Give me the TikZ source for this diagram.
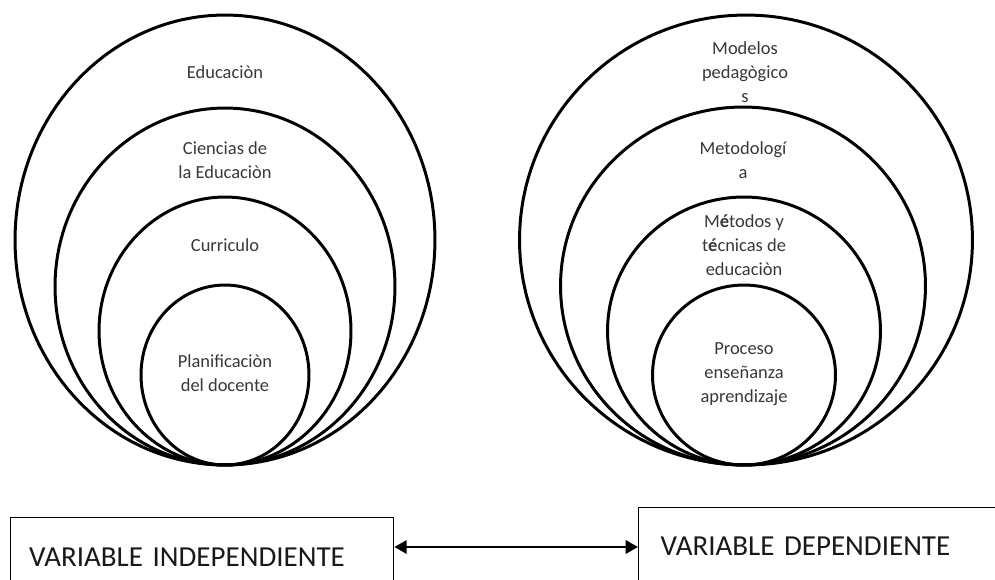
\documentclass[tikz,border=0pt]{standalone}
\usepackage{fontspec}
\setmainfont{Carlito}
\usetikzlibrary{shapes.geometric,arrows.meta,positioning}

\tikzset{
  ring/.style={draw, ellipse, line width=1.7pt, inner sep=0pt},
  ringlabel/.style={align=center, text=black!78, font=\fontsize{10.5pt}{13.6pt}\selectfont},
  varbox/.style={draw, line width=0.8pt, anchor=north west, align=left, inner ysep=0pt,
    font=\fontsize{16.5pt}{20pt}\selectfont, text=black!90},
  biarrow/.style={{Triangle[length=7pt,width=7.5pt]}-{Triangle[length=7pt,width=7.5pt]}, line width=1.5pt}
}

\begin{document}
\begin{tikzpicture}[x=0.02cm, y=-0.02cm]
        \useasboundingbox (0,0) rectangle (995,579);
        \clip (0,0) rectangle (995,579);

        % left rings
        \node [ring, minimum width=8.4cm, minimum height=9cm] (edu) at (225,240) {};
        \node [ring, minimum width=6.8cm, minimum height=7.14cm] (cien) at (225,286.5) {};
        \node [ring, minimum width=5.04cm, minimum height=5.36cm] (curr) at (225,331) {};
        \node [ring, minimum width=3.36cm, minimum height=3.6cm] (plan) at (225,375) {};

        \node [ringlabel] (edutxt) at (225,72) {Educaciòn};
        \node [ringlabel] (cientxt) at (225,160) {Ciencias de\\la Educaciòn};
        \node [ringlabel] (currtxt) at (225,245) {Curriculo};
        \node [ringlabel] (plantxt) at (225,373) {Planificaciòn\\del docente};

        % right rings
        \node [ring, minimum width=9.06cm, minimum height=9cm] (mod) at (746,240) {};
        \node [ring, minimum width=7.3cm, minimum height=7.16cm] (met) at (743,286) {};
        \node [ring, minimum width=5.46cm, minimum height=5.36cm] (tec) at (744,331) {};
        \node [ring, minimum width=3.66cm, minimum height=3.6cm] (proc) at (744,375) {};

        \node [ringlabel] (modtxt) at (745,72) {Modelos\\pedagògico\\s};
        \node [ringlabel] (mettxt) at (743,160) {Metodologí\\a};
        \node [ringlabel] (tectxt) at (744,245) {M\textbf{é}todos y\\t\textbf{é}cnicas de\\educaciòn};
        \node [ringlabel] (proctxt) at (744,374) {Proceso\\enseñanza\\aprendizaje};

        % variables
        \node [varbox, inner xsep=0.38cm, text width=6.91cm, text height=0.98cm, text depth=0.34cm]
        (indep) at (9.5,517) {VARIABLE INDEPENDIENTE};
        \node [varbox, inner xsep=0.44cm, text width=6.56cm, text height=0.96cm, text depth=0.6cm]
        (dep) at (638,507) {VARIABLE DEPENDIENTE};

        \coordinate (mid) at (0,547);
        \draw [biarrow] (indep.east |- mid) -- (dep.west |- mid);
\end{tikzpicture}
\end{document}
